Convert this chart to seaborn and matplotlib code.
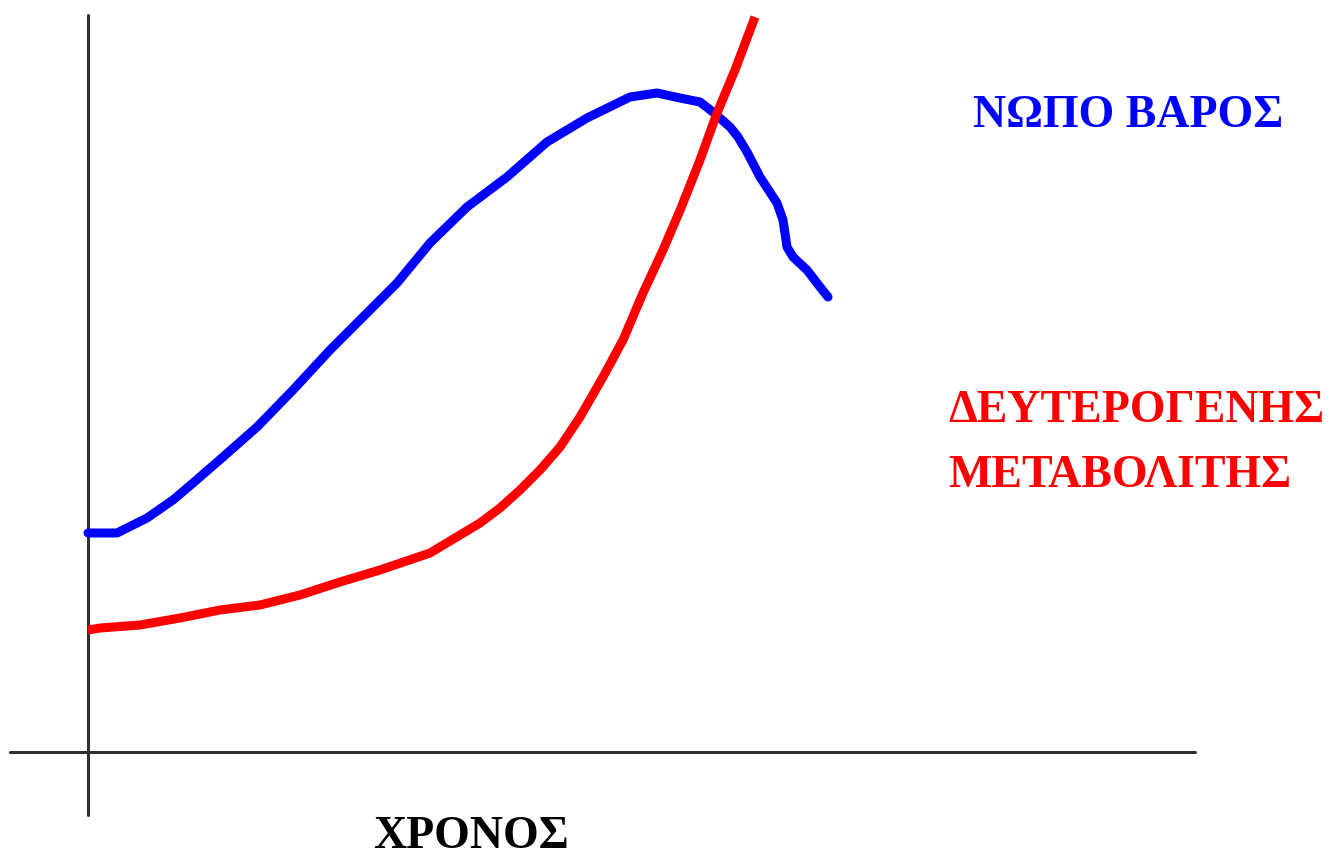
import numpy as np
import pandas as pd
import matplotlib
matplotlib.use("Agg")
import matplotlib.pyplot as plt
import seaborn as sns

# values (x = time, y = level, origin at the axes crossing)
blue_x = [0, 29, 59, 85, 105, 135, 169, 205, 242, 275, 309, 342, 379, 419, 459,
          499, 542, 569, 592, 612, 625, 642, 650, 659, 672, 689, 695, 699, 705,
          719, 732, 740]
blue_y = [219, 219, 234, 252, 269, 295, 325, 362, 402, 435, 469, 509, 545, 575, 610,
          634, 655, 659, 654, 650, 640, 625, 615, 600, 575, 549, 532, 505, 495,
          482, 465, 455]

red_x = [0, 12, 52, 92, 132, 172, 212, 252, 292, 342, 392, 412, 432, 452, 472,
         492, 515, 535, 555, 575, 593, 612, 629, 647, 667]
red_y = [122, 124, 127, 134, 142, 147, 157, 170, 182, 199, 229, 244, 262, 282, 305,
         335, 375, 412, 459, 502, 544, 592, 639, 682, 735]

blue_label = "ΝΩΠΟ ΒΑΡΟΣ"
red_label_1 = "ΔΕΥΤΕΡΟΓΕΝΗΣ"
red_label_2 = "ΜΕΤΑΒΟΛΙΤΗΣ"
x_label = "ΧΡΟΝΟΣ"

blue_df = pd.DataFrame({"t": blue_x, "v": blue_y})
red_df = pd.DataFrame({"t": red_x, "v": red_y})

sns.set_theme(style="white")
plt.rcParams["font.family"] = ["Liberation Serif", "DejaVu Serif"]

fig = plt.figure(figsize=(13.34, 8.58), dpi=100)
ax = fig.add_axes([0, 0, 1, 1])
ax.set_xlim(-88, 1246)
ax.set_ylim(-106, 752)
ax.axis("off")

# hand-drawn style axes
ax.vlines(0, -63, 737, color="#303030", lw=2.2, capstyle="round")
ax.hlines(0, -78, 1107, color="#303030", lw=2.2, capstyle="round")

sns.lineplot(data=blue_df, x="t", y="v", sort=False, color="#0000ff", lw=6.5,
             ax=ax, solid_capstyle="round", solid_joinstyle="round")
sns.lineplot(data=red_df, x="t", y="v", sort=False, color="#ff0000", lw=6.5,
             ax=ax, solid_capstyle="butt", solid_joinstyle="round")

ax.text(1040, 636, blue_label, color="#0000ff", fontsize=33, fontweight="bold",
        ha="center", va="center")
ax.text(860, 341, red_label_1, color="#ff0000", fontsize=33, fontweight="bold",
        ha="left", va="center")
ax.text(860, 276, red_label_2, color="#ff0000", fontsize=33, fontweight="bold",
        ha="left", va="center")
ax.text(383, -85, x_label, color="black", fontsize=33, fontweight="bold",
        ha="center", va="center")

fig.savefig("out.png", dpi=100)
